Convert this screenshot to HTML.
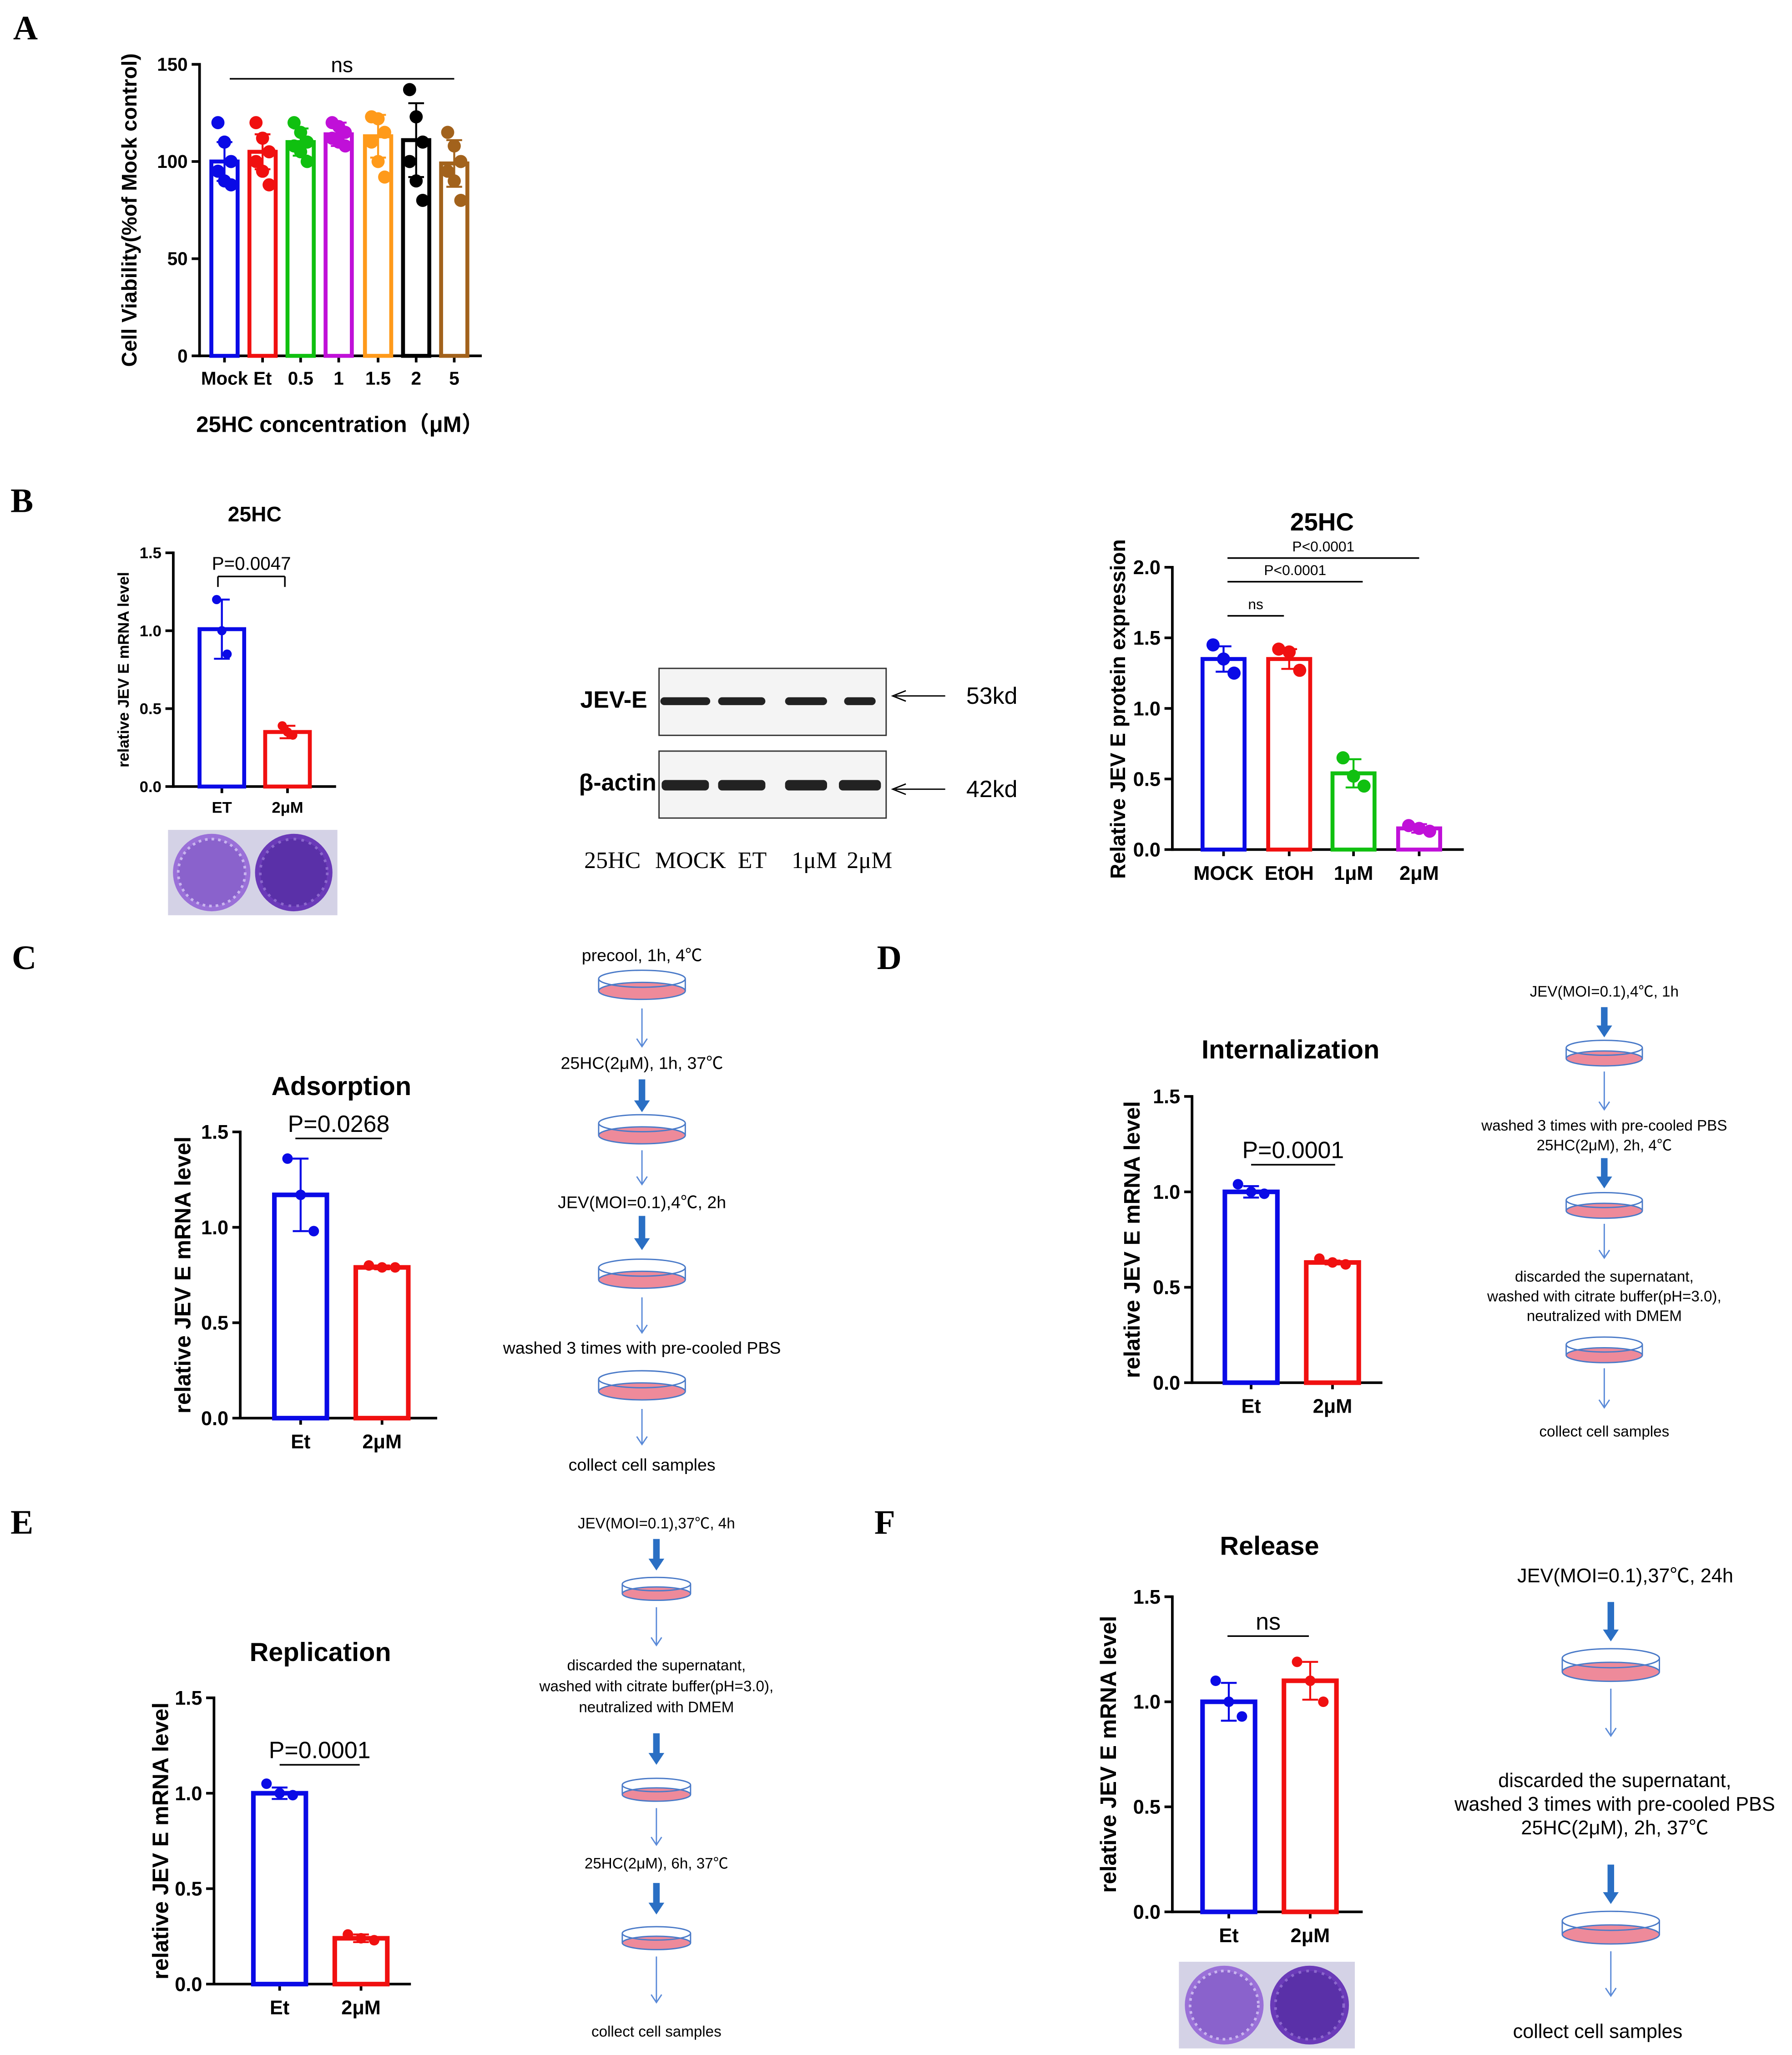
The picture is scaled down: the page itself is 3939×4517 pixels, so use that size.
<!DOCTYPE html>
<html><head><meta charset="utf-8"><style>
html,body{margin:0;padding:0;background:#fff}
svg{display:block}
text{font-family:"Liberation Sans","Noto Sans CJK SC",sans-serif}
</style></head><body>
<svg id="fig" width="3939" height="4517" viewBox="0 0 1365 1565" preserveAspectRatio="none" xmlns="http://www.w3.org/2000/svg">
<rect width="1365" height="1565" fill="#fff"/>
<g font-family="Liberation Serif,serif" font-weight="bold" font-size="26">
<text x="10" y="30" style="font-family:'Liberation Serif',serif">A</text>
<text x="8" y="390" style="font-family:'Liberation Serif',serif">B</text>
<text x="9" y="738" style="font-family:'Liberation Serif',serif">C</text>
<text x="668" y="738" style="font-family:'Liberation Serif',serif">D</text>
<text x="8" y="1168" style="font-family:'Liberation Serif',serif">E</text>
<text x="666" y="1168" style="font-family:'Liberation Serif',serif">F</text>
</g>
</svg>
<script>
// ---- data ----
const aCats=["Mock","Et","0.5","1","1.5","2","5"];
const aMeans=[100,105,110,114,113,111,99];
const aErr=[10,9,7,6,11,19,12];
const aPts=[[120,110,100,95,90,88],[120,112,105,100,95,88],[120,115,110,108,105,100],[120,118,115,112,110,108],[123,122,115,110,100,92],[137,123,110,100,90,80],[115,108,100,95,90,80]];
const aTicks=[0,50,100,150];
const bCats=["ET","2μM"];const bMeans=[1.01,0.35];const bErr=[0.19,0.04];const bPts=[[1.2,1.0,0.85],[0.39,0.35,0.33]];
const b2Cats=["MOCK","EtOH","1μM","2μM"];const b2Means=[1.35,1.35,0.54,0.15];const b2Err=[0.09,0.07,0.1,0.03];const b2Pts=[[1.45,1.35,1.25],[1.42,1.4,1.27],[0.65,0.52,0.45],[0.17,0.15,0.13]];
const cCats=["Et","2μM"];const cMeans=[1.17,0.79];const cErr=[0.19,0.01];const cPts=[[1.36,1.17,0.98],[0.8,0.79,0.79]];
const dCats=["Et","2μM"];const dMeans=[1.0,0.63];const dErr=[0.03,0.01];const dPts=[[1.04,1.0,0.99],[0.65,0.63,0.62]];
const eCats=["Et","2μM"];const eMeans=[1.0,0.24];const eErr=[0.03,0.02];const ePts=[[1.05,1.0,0.99],[0.26,0.24,0.23]];
const fCats=["Et","2μM"];const fMeans=[1.0,1.1];const fErr=[0.09,0.09];const fPts=[[1.1,1.0,0.93],[1.19,1.1,1.0]];
const t15=[0,0.5,1.0,1.5];const t20=[0,0.5,1.0,1.5,2.0];
const COLS=["#0a0ae6","#f01010","#10c010","#c010d8","#ff9a1a","#000","#a2621c"];
const NS="http://www.w3.org/2000/svg";const svg=document.getElementById('fig');
function el(t,a,txt,p){const e=document.createElementNS(NS,t);for(const k in a)e.setAttribute(k,a[k]);if(txt!==undefined)e.textContent=txt;(p||svg).appendChild(e);return e;}
function chart(o,cats,means,err,pts,ticks){
 const g=el('g',{});
 
 
 const y=v=>o.y0-(v-ticks[0])/(ticks[ticks.length-1]-ticks[0])*(o.y0-o.yTop);
 const xEnd=o.xs[o.xs.length-1]+o.bw/2+o.pad;
 el('line',{x1:o.ax,y1:o.yTop-1,x2:o.ax,y2:o.y0+1,stroke:'#000','stroke-width':2},undefined,g);
 el('line',{x1:o.ax,y1:o.y0,x2:xEnd,y2:o.y0,stroke:'#000','stroke-width':2},undefined,g);
 ticks.forEach(t=>{el('line',{x1:o.ax-6,y1:y(t),x2:o.ax,y2:y(t),stroke:'#000','stroke-width':2},undefined,g);
  const tl=el('text',{x:o.ax-9,y:y(t)+o.fs*0.35,'text-anchor':'end','font-size':o.fs,'font-weight':'bold'},o.fmt?o.fmt(t):String(t),g);
  });
 cats.forEach((c,i)=>{const cx=o.xs[i],col=o.cols[i];
  el('line',{x1:cx,y1:o.y0,x2:cx,y2:o.y0+5,stroke:'#000','stroke-width':2},undefined,g);
  const b=el('rect',{x:cx-o.bw/2,y:y(means[i]),width:o.bw,height:o.y0-y(means[i]),fill:'none',stroke:col,'stroke-width':o.sw},undefined,g);
  
  const e1=y(means[i]+err[i]),e2=y(means[i]-err[i]);
  el('line',{x1:cx,y1:e1,x2:cx,y2:e2,stroke:col,'stroke-width':1.5},undefined,g);
  el('line',{x1:cx-6,y1:e1,x2:cx+6,y2:e1,stroke:col,'stroke-width':1.5},undefined,g);
  el('line',{x1:cx-6,y1:e2,x2:cx+6,y2:e2,stroke:col,'stroke-width':1.5},undefined,g);
  pts[i].forEach((v,j)=>{const off=((j%3)-1)*o.jit;const d=el('circle',{cx:cx+off,cy:y(v),r:o.r,fill:col},undefined,g);
   });
  const xl=el('text',{x:cx,y:o.y0+o.fs+8,'text-anchor':'middle','font-size':o.fs,'font-weight':'bold'},c,g);
  
 });
 const yt=el('text',{x:o.ytx,y:o.yty,'text-anchor':'middle','font-size':o.yfs,'font-weight':'bold',transform:`rotate(-90 ${o.ytx} ${o.yty})`},o.ytitle,g);
 
 if(o.title){const tt=el('text',{x:o.tx,y:o.ty,'text-anchor':'middle','font-size':o.tfs,'font-weight':'bold'},o.title,g);
  }
 (o.brackets||[]).forEach(bk=>{el('line',{x1:bk[0],y1:bk[2],x2:bk[1],y2:bk[2],stroke:'#000','stroke-width':1.2},undefined,g);
  if(bk[5])[bk[0],bk[1]].forEach(xx=>el('line',{x1:xx,y1:bk[2],x2:xx,y2:bk[2]+8,stroke:'#000','stroke-width':1.2},undefined,g));
  const st=el('text',{x:(bk[0]+bk[1])/2,y:bk[2]-5,'text-anchor':'middle','font-size':bk[4]},bk[3],g);
  });
 return g;}
const f1=t=>t.toFixed(1);
chart({name:'panel-a-cell-viability-chart',ax:152,y0:271,yTop:49,xs:[171,200,229,258,288,317,346],bw:20,pad:11,cols:COLS,sw:3,r:5,jit:5,fs:14,yfs:16,ytitle:'Cell Viability(%of Mock control)',ytx:104,yty:160,brackets:[[175,346,60,'ns',16]]},aCats,aMeans,aErr,aPts,aTicks);
el('text',{x:259,y:329,'text-anchor':'middle','font-size':17,'font-weight':'bold'},'25HC concentration（μM）');
chart({name:'panel-b-mrna-chart',ax:132,y0:599,yTop:421,xs:[169,219],bw:34,pad:20,cols:COLS,sw:3,r:3.5,jit:4,fs:12,yfs:12,fmt:f1,ytitle:'relative JEV E mRNA level',ytx:98,yty:510,title:'25HC',tx:194,ty:397,tfs:16,brackets:[[166,217,439,'P=0.0047',14,1]]},bCats,bMeans,bErr,bPts,t15);
chart({name:'panel-b-protein-chart',ax:893,y0:647,yTop:432,xs:[932,982,1031,1081],bw:32,pad:18,cols:COLS,sw:3,r:5,jit:8,fs:15,yfs:16,fmt:f1,ytitle:'Relative JEV E protein expression',ytx:857,yty:540,title:'25HC',tx:1007,ty:404,tfs:19,brackets:[[935,978,469,'ns',11],[935,1038,443,'P<0.0001',11],[935,1081,425,'P<0.0001',11]]},b2Cats,b2Means,b2Err,b2Pts,t20);
chart({name:'panel-c-adsorption-chart',ax:183,y0:1080,yTop:862,xs:[229,291],bw:40,pad:22,cols:COLS,sw:3.5,r:4,jit:10,fs:15,yfs:17,fmt:f1,ytitle:'relative JEV E mRNA level',ytx:145,yty:971,title:'Adsorption',tx:260,ty:834,tfs:20,brackets:[[225,291,867,'P=0.0268',18]]},cCats,cMeans,cErr,cPts,t15);
chart({name:'panel-d-internalization-chart',ax:908,y0:1053,yTop:835,xs:[953,1015],bw:40,pad:18,cols:COLS,sw:3.5,r:4,jit:10,fs:15,yfs:17,fmt:f1,ytitle:'relative JEV E mRNA level',ytx:868,yty:944,title:'Internalization',tx:983,ty:806,tfs:20,brackets:[[953,1017,887,'P=0.0001',18]]},dCats,dMeans,dErr,dPts,t15);
chart({name:'panel-e-replication-chart',ax:163,y0:1511,yTop:1293,xs:[213,275],bw:40,pad:18,cols:COLS,sw:3.5,r:4,jit:10,fs:15,yfs:17,fmt:f1,ytitle:'relative JEV E mRNA level',ytx:128,yty:1402,title:'Replication',tx:244,ty:1265,tfs:20,brackets:[[213,274,1344,'P=0.0001',18]]},eCats,eMeans,eErr,ePts,t15);
chart({name:'panel-f-release-chart',ax:893,y0:1456,yTop:1216,xs:[936,998],bw:40,pad:20,cols:COLS,sw:3.5,r:4,jit:10,fs:15,yfs:17,fmt:f1,ytitle:'relative JEV E mRNA level',ytx:850,yty:1336,title:'Release',tx:967,ty:1184,tfs:20,brackets:[[935,997,1246,'ns',18]]},fCats,fMeans,fErr,fPts,t15);
// plaques
function plaque(x,y,w,h,name){const g=el('g',{});
 el('rect',{x:x,y:y,width:w,height:h,fill:'#d4d2e6'},undefined,g);
 const r=h/2-3;
 el('circle',{cx:x+w/4+1,cy:y+h/2,r:r,fill:'#9a70d8'},undefined,g);
 el('circle',{cx:x+w/4+1,cy:y+h/2,r:r-4,fill:'#8a62cc',stroke:'#c9b5ee','stroke-width':2,'stroke-dasharray':'2 3'},undefined,g);
 el('circle',{cx:x+3*w/4-1,cy:y+h/2,r:r,fill:'#6a3ab8'},undefined,g);
 el('circle',{cx:x+3*w/4-1,cy:y+h/2,r:r-4,fill:'#5a30a8',stroke:'#8c68cc','stroke-width':2,'stroke-dasharray':'2 4'},undefined,g);}
plaque(128,632,129,65,'plaque-image-b');plaque(898,1494,134,66,'plaque-image-f');
// blot
const blot=el('g',{});
[[509,'JEV-E','53kd',530,0.9],[572,'β-actin','42kd',601,1]].forEach((r,k)=>{
 el('rect',{x:502,y:r[0],width:173,height:51,fill:'#f4f4f4',stroke:'#333'},undefined,blot);
 [[522,k?36:38],[565,36],[614,32],[655,k?32:24]].forEach(b=>el('rect',{x:b[0]-b[1]/2,y:r[0]+22,width:b[1],height:k?8:6,rx:3,fill:'#222'},undefined,blot));
 el('text',{x:k?500:493,y:r[0]+30,'text-anchor':'end','font-size':18,'font-weight':'bold'},r[1],blot);
 el('line',{x1:720,y1:r[3],x2:682,y2:r[3],stroke:'#000'},undefined,blot);
 el('path',{d:`M690 ${r[3]-4} L680 ${r[3]} L690 ${r[3]+4}`,fill:'none',stroke:'#000'},undefined,blot);
 el('text',{x:736,y:r[3]+6,'font-size':18},r[2],blot);});
[[445,'25HC'],[499,'MOCK'],[562,'ET'],[603,'1μM'],[645,'2μM']].forEach(l=>el('text',{x:l[0],y:661,'font-size':18,style:"font-family:'Liberation Serif',serif"},l[1],blot));
// flows
function dish(cx,cy,w,p){const h=w*0.14;
 el('ellipse',{cx:cx,cy:cy+h*0.5,rx:w/2,ry:h*0.7,fill:'#ee8a9a',stroke:'#4a7ac8','stroke-width':1},undefined,p);
 el('path',{d:`M${cx-w/2} ${cy-h*0.5} L${cx-w/2} ${cy+h*0.5} M${cx+w/2} ${cy-h*0.5} L${cx+w/2} ${cy+h*0.5}`,stroke:'#4a7ac8','stroke-width':1},undefined,p);
 el('ellipse',{cx:cx,cy:cy-h*0.5,rx:w/2,ry:h*0.7,fill:'none',stroke:'#4a7ac8','stroke-width':1},undefined,p);}
function thin(x,y1,y2,p){el('line',{x1:x,y1:y1,x2:x,y2:y2,stroke:'#5a8ad8','stroke-width':1},undefined,p);el('path',{d:`M${x-4} ${y2-6} L${x} ${y2} L${x+4} ${y2-6}`,fill:'none',stroke:'#5a8ad8'},undefined,p);}
function thick(x,y1,y2,p){el('line',{x1:x,y1:y1,x2:x,y2:y2-7,stroke:'#2a6fc4','stroke-width':5},undefined,p);el('path',{d:`M${x-6} ${y2-9} L${x} ${y2} L${x+6} ${y2-9}Z`,fill:'#2a6fc4'},undefined,p);}
function flow(name,x,w,fs,items){const g=el('g',{});
 items.forEach(it=>{if(it[0]=='t')el('text',{x:it[3]||x,y:it[1],'text-anchor':'middle','font-size':fs},it[2],g);
  else if(it[0]=='d')dish(x,it[1],w,g);else if(it[0]=='a')thin(x,it[1],it[2],g);else thick(x,it[1],it[2],g);});}
flow('flow-diagram-c',489,66,13,[['t',732,'precool, 1h, 4℃'],['d',750],['a',768,797],['t',814,'25HC(2μM), 1h, 37℃'],['k',822,847],['d',860],['a',876,902],['t',920,'JEV(MOI=0.1),4℃, 2h'],['k',926,952],['d',970],['a',988,1015],['t',1031,'washed 3 times with pre-cooled PBS'],['d',1055],['a',1073,1100],['t',1120,'collect cell samples']]);
flow('flow-diagram-d',1222,58,11.5,[['t',759,'JEV(MOI=0.1),4℃, 1h'],['k',767,790],['d',802],['a',816,845],['t',861,'washed 3 times with pre-cooled PBS'],['t',876,'25HC(2μM), 2h, 4℃'],['k',882,905],['d',918],['a',932,958],['t',976,'discarded the supernatant,'],['t',991,'washed with citrate buffer(pH=3.0),'],['t',1006,'neutralized with DMEM'],['d',1028],['a',1042,1072],['t',1094,'collect cell samples']]);
flow('flow-diagram-e',500,52,11.5,[['t',1164,'JEV(MOI=0.1),37℃, 4h'],['k',1172,1196],['d',1210],['a',1224,1253],['t',1272,'discarded the supernatant,'],['t',1288,'washed with citrate buffer(pH=3.0),'],['t',1304,'neutralized with DMEM'],['k',1320,1344],['d',1363],['a',1377,1405],['t',1423,'25HC(2μM), 6h, 37℃'],['k',1434,1458],['d',1476],['a',1490,1525],['t',1551,'collect cell samples']]);
flow('flow-diagram-f',1227,74,15,[['t',1205,'JEV(MOI=0.1),37℃, 24h',1238],['k',1220,1250],['d',1268],['a',1286,1322],['t',1361,'discarded the supernatant,',1230],['t',1379,'washed 3 times with pre-cooled PBS',1230],['t',1397,'25HC(2μM), 2h, 37℃',1230],['k',1420,1450],['d',1468],['a',1486,1520],['t',1552,'collect cell samples',1217]]);
</script>
</body></html>
